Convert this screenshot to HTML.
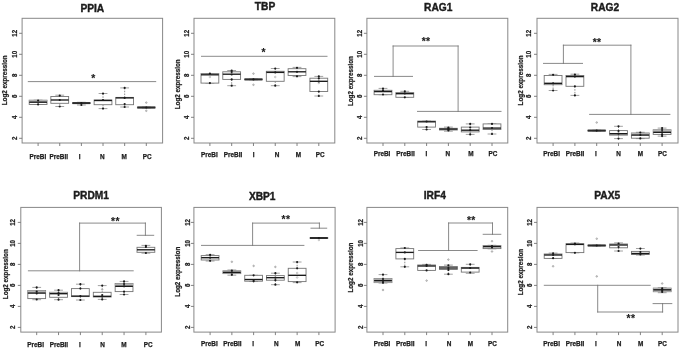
<!DOCTYPE html>
<html lang="en"><head><meta charset="utf-8"><title>Log2 expression boxplots</title>
<style>html,body{margin:0;padding:0;background:#fff;}body{width:685px;height:354px;overflow:hidden;}svg{display:block;}</style>
</head><body>
<svg width="685" height="354" viewBox="0 0 685 354" font-family="Liberation Sans, Arial, Helvetica, sans-serif" font-weight="bold" fill="#1c1c1c">
<rect width="685" height="354" fill="#fff"/>
<g>
<text transform="translate(92.3,11.5) scale(1.0,1)" font-size="10.2" stroke="#1c1c1c" stroke-width="0.4" text-anchor="middle">PPIA</text>
<rect x="22.1" y="18.3" width="140.5" height="124.7" fill="none" stroke="#888888" stroke-width="1"/>
<line x1="19.1" y1="33.3" x2="22.1" y2="33.3" stroke="#747474" stroke-width="0.9"/>
<text transform="translate(17,33.3) scale(1.06,1) rotate(-90)" font-size="6.2" stroke="#1c1c1c" stroke-width="0.22" text-anchor="middle">12</text>
<line x1="19.1" y1="54.3" x2="22.1" y2="54.3" stroke="#747474" stroke-width="0.9"/>
<text transform="translate(17,54.3) scale(1.06,1) rotate(-90)" font-size="6.2" stroke="#1c1c1c" stroke-width="0.22" text-anchor="middle">10</text>
<line x1="19.1" y1="75.3" x2="22.1" y2="75.3" stroke="#747474" stroke-width="0.9"/>
<text transform="translate(17,75.3) scale(1.06,1) rotate(-90)" font-size="6.2" stroke="#1c1c1c" stroke-width="0.22" text-anchor="middle">8</text>
<line x1="19.1" y1="96.3" x2="22.1" y2="96.3" stroke="#747474" stroke-width="0.9"/>
<text transform="translate(17,96.3) scale(1.06,1) rotate(-90)" font-size="6.2" stroke="#1c1c1c" stroke-width="0.22" text-anchor="middle">6</text>
<line x1="19.1" y1="117.3" x2="22.1" y2="117.3" stroke="#747474" stroke-width="0.9"/>
<text transform="translate(17,117.3) scale(1.06,1) rotate(-90)" font-size="6.2" stroke="#1c1c1c" stroke-width="0.22" text-anchor="middle">4</text>
<line x1="19.1" y1="138.3" x2="22.1" y2="138.3" stroke="#747474" stroke-width="0.9"/>
<text transform="translate(17,138.3) scale(1.06,1) rotate(-90)" font-size="6.2" stroke="#1c1c1c" stroke-width="0.22" text-anchor="middle">2</text>
<text transform="translate(6.8,80.3) scale(1.06,1) rotate(-90)" font-size="6.3" stroke="#1c1c1c" stroke-width="0.22" text-anchor="middle">Log2 expression</text>
<line x1="38.1" y1="143" x2="38.1" y2="146" stroke="#747474" stroke-width="0.9"/>
<text transform="translate(37.9,158.6) scale(1,1)" font-size="6.4" stroke="#1c1c1c" stroke-width="0.25" text-anchor="middle">PreBI</text>
<line x1="59.74" y1="143" x2="59.74" y2="146" stroke="#747474" stroke-width="0.9"/>
<text transform="translate(58.8,158.6) scale(1,1)" font-size="6.4" stroke="#1c1c1c" stroke-width="0.25" text-anchor="middle">PreBII</text>
<line x1="81.38" y1="143" x2="81.38" y2="146" stroke="#747474" stroke-width="0.9"/>
<text transform="translate(79.6,158.6) scale(1,1)" font-size="6.4" stroke="#1c1c1c" stroke-width="0.25" text-anchor="middle">I</text>
<line x1="103.02" y1="143" x2="103.02" y2="146" stroke="#747474" stroke-width="0.9"/>
<text transform="translate(102.2,158.6) scale(1,1)" font-size="6.4" stroke="#1c1c1c" stroke-width="0.25" text-anchor="middle">N</text>
<line x1="124.66" y1="143" x2="124.66" y2="146" stroke="#747474" stroke-width="0.9"/>
<text transform="translate(124.2,158.6) scale(1,1)" font-size="6.4" stroke="#1c1c1c" stroke-width="0.25" text-anchor="middle">M</text>
<line x1="146.3" y1="143" x2="146.3" y2="146" stroke="#747474" stroke-width="0.9"/>
<text transform="translate(147.2,158.6) scale(1,1)" font-size="6.4" stroke="#1c1c1c" stroke-width="0.25" text-anchor="middle">PC</text>
<line x1="33.7" y1="100.2" x2="42.5" y2="100.2" stroke="#8a8a8a" stroke-width="0.8"/>
<line x1="33.7" y1="104.5" x2="42.5" y2="104.5" stroke="#8a8a8a" stroke-width="0.8"/>
<rect x="29.2" y="100.2" width="17.8" height="4.3" fill="#fff" stroke="#747474" stroke-width="0.9"/>
<rect x="29.2" y="100.2" width="17.8" height="2" fill="#b4b4b4"/>
<line x1="29.2" y1="102.2" x2="47" y2="102.2" stroke="#1a1a1a" stroke-width="1.35"/>
<circle cx="38.1" cy="100.5" r="1.08" fill="#1a1a1a"/>
<circle cx="38.1" cy="104.4" r="1.08" fill="#1a1a1a"/>
<line x1="59.74" y1="95.2" x2="59.74" y2="96.5" stroke="#747474" stroke-width="0.8" stroke-dasharray="1.6 1.2"/>
<line x1="59.74" y1="103.3" x2="59.74" y2="106.5" stroke="#747474" stroke-width="0.8" stroke-dasharray="1.6 1.2"/>
<line x1="55.34" y1="95.2" x2="64.14" y2="95.2" stroke="#8a8a8a" stroke-width="0.8"/>
<line x1="55.34" y1="106.5" x2="64.14" y2="106.5" stroke="#8a8a8a" stroke-width="0.8"/>
<rect x="50.84" y="96.5" width="17.8" height="6.8" fill="#fff" stroke="#747474" stroke-width="0.9"/>
<line x1="50.84" y1="100" x2="68.64" y2="100" stroke="#1a1a1a" stroke-width="1.35"/>
<circle cx="59.74" cy="95.6" r="1.08" fill="#1a1a1a"/>
<circle cx="59.74" cy="100" r="1.08" fill="#1a1a1a"/>
<circle cx="59.74" cy="106.5" r="1.08" fill="#1a1a1a"/>
<line x1="81.38" y1="103.4" x2="81.38" y2="105" stroke="#747474" stroke-width="0.8" stroke-dasharray="1.6 1.2"/>
<line x1="76.98" y1="102.3" x2="85.78" y2="102.3" stroke="#8a8a8a" stroke-width="0.8"/>
<line x1="76.98" y1="105" x2="85.78" y2="105" stroke="#8a8a8a" stroke-width="0.8"/>
<rect x="72.48" y="102.8" width="17.8" height="0.6" fill="#fff" stroke="#747474" stroke-width="0.9"/>
<line x1="72.48" y1="103.1" x2="90.28" y2="103.1" stroke="#2c2c2c" stroke-width="2.0"/>
<circle cx="81.38" cy="103" r="1.08" fill="#1a1a1a"/>
<circle cx="81.38" cy="105" r="1.08" fill="#1a1a1a"/>
<line x1="103.02" y1="93.5" x2="103.02" y2="100" stroke="#747474" stroke-width="0.8" stroke-dasharray="1.6 1.2"/>
<line x1="103.02" y1="104.7" x2="103.02" y2="108.6" stroke="#747474" stroke-width="0.8" stroke-dasharray="1.6 1.2"/>
<line x1="98.62" y1="93.5" x2="107.42" y2="93.5" stroke="#8a8a8a" stroke-width="0.8"/>
<line x1="98.62" y1="108.6" x2="107.42" y2="108.6" stroke="#8a8a8a" stroke-width="0.8"/>
<rect x="94.12" y="100" width="17.8" height="4.7" fill="#fff" stroke="#747474" stroke-width="0.9"/>
<line x1="94.12" y1="100.5" x2="111.92" y2="100.5" stroke="#1a1a1a" stroke-width="1.35"/>
<circle cx="103.02" cy="93.5" r="1.08" fill="#1a1a1a"/>
<circle cx="103.02" cy="100" r="1.08" fill="#1a1a1a"/>
<circle cx="103.02" cy="108.6" r="1.08" fill="#1a1a1a"/>
<line x1="124.66" y1="87.9" x2="124.66" y2="97.4" stroke="#747474" stroke-width="0.8" stroke-dasharray="1.6 1.2"/>
<line x1="124.66" y1="104.7" x2="124.66" y2="107" stroke="#747474" stroke-width="0.8" stroke-dasharray="1.6 1.2"/>
<line x1="120.26" y1="87.9" x2="129.06" y2="87.9" stroke="#8a8a8a" stroke-width="0.8"/>
<line x1="120.26" y1="107" x2="129.06" y2="107" stroke="#8a8a8a" stroke-width="0.8"/>
<rect x="115.76" y="97.4" width="17.8" height="7.3" fill="#fff" stroke="#747474" stroke-width="0.9"/>
<line x1="115.76" y1="97.9" x2="133.56" y2="97.9" stroke="#1a1a1a" stroke-width="1.35"/>
<circle cx="124.66" cy="87.9" r="1.08" fill="#1a1a1a"/>
<circle cx="124.66" cy="97.9" r="1.08" fill="#1a1a1a"/>
<circle cx="124.66" cy="104" r="1.08" fill="#1a1a1a"/>
<circle cx="124.66" cy="107" r="1.08" fill="#1a1a1a"/>
<line x1="141.9" y1="107" x2="150.7" y2="107" stroke="#8a8a8a" stroke-width="0.8"/>
<line x1="141.9" y1="108" x2="150.7" y2="108" stroke="#8a8a8a" stroke-width="0.8"/>
<rect x="137.4" y="107.1" width="17.8" height="0.8" fill="#fff" stroke="#747474" stroke-width="0.9"/>
<line x1="137.4" y1="107.5" x2="155.2" y2="107.5" stroke="#2c2c2c" stroke-width="2.0"/>
<circle cx="146.3" cy="102.6" r="0.8" fill="#d8d8d8" stroke="#8f8f8f" stroke-width="0.6"/>
<circle cx="146.3" cy="110.8" r="0.8" fill="#d8d8d8" stroke="#8f8f8f" stroke-width="0.6"/>
<circle cx="146.3" cy="107.5" r="1.08" fill="#1a1a1a"/>
<line x1="28.3" y1="81.6" x2="155.7" y2="81.6" stroke="#757575" stroke-width="0.85" stroke-linecap="square"/>
<text x="93.4" y="81.85" font-size="10.3" letter-spacing="0.4" stroke="#1c1c1c" stroke-width="0.12" text-anchor="middle">*</text>
</g>
<g>
<text transform="translate(265,10.3) scale(1.0,1)" font-size="10.2" stroke="#1c1c1c" stroke-width="0.4" text-anchor="middle">TBP</text>
<rect x="194" y="18.3" width="140.8" height="124.7" fill="none" stroke="#888888" stroke-width="1"/>
<line x1="191" y1="33.3" x2="194" y2="33.3" stroke="#747474" stroke-width="0.9"/>
<text transform="translate(188.8,33.3) scale(1.06,1) rotate(-90)" font-size="6.2" stroke="#1c1c1c" stroke-width="0.22" text-anchor="middle">12</text>
<line x1="191" y1="54.3" x2="194" y2="54.3" stroke="#747474" stroke-width="0.9"/>
<text transform="translate(188.8,54.3) scale(1.06,1) rotate(-90)" font-size="6.2" stroke="#1c1c1c" stroke-width="0.22" text-anchor="middle">10</text>
<line x1="191" y1="75.3" x2="194" y2="75.3" stroke="#747474" stroke-width="0.9"/>
<text transform="translate(188.8,75.3) scale(1.06,1) rotate(-90)" font-size="6.2" stroke="#1c1c1c" stroke-width="0.22" text-anchor="middle">8</text>
<line x1="191" y1="96.3" x2="194" y2="96.3" stroke="#747474" stroke-width="0.9"/>
<text transform="translate(188.8,96.3) scale(1.06,1) rotate(-90)" font-size="6.2" stroke="#1c1c1c" stroke-width="0.22" text-anchor="middle">6</text>
<line x1="191" y1="117.3" x2="194" y2="117.3" stroke="#747474" stroke-width="0.9"/>
<text transform="translate(188.8,117.3) scale(1.06,1) rotate(-90)" font-size="6.2" stroke="#1c1c1c" stroke-width="0.22" text-anchor="middle">4</text>
<line x1="191" y1="138.3" x2="194" y2="138.3" stroke="#747474" stroke-width="0.9"/>
<text transform="translate(188.8,138.3) scale(1.06,1) rotate(-90)" font-size="6.2" stroke="#1c1c1c" stroke-width="0.22" text-anchor="middle">2</text>
<text transform="translate(180.4,84.3) scale(1.06,1) rotate(-90)" font-size="6.3" stroke="#1c1c1c" stroke-width="0.22" text-anchor="middle">Log2 expression</text>
<line x1="209.9" y1="143" x2="209.9" y2="146" stroke="#747474" stroke-width="0.9"/>
<text transform="translate(209.3,157) scale(1,1)" font-size="6.4" stroke="#1c1c1c" stroke-width="0.25" text-anchor="middle">PreBI</text>
<line x1="231.68" y1="143" x2="231.68" y2="146" stroke="#747474" stroke-width="0.9"/>
<text transform="translate(233,157) scale(1,1)" font-size="6.4" stroke="#1c1c1c" stroke-width="0.25" text-anchor="middle">PreBII</text>
<line x1="253.46" y1="143" x2="253.46" y2="146" stroke="#747474" stroke-width="0.9"/>
<text transform="translate(253.7,157) scale(1,1)" font-size="6.4" stroke="#1c1c1c" stroke-width="0.25" text-anchor="middle">I</text>
<line x1="275.24" y1="143" x2="275.24" y2="146" stroke="#747474" stroke-width="0.9"/>
<text transform="translate(277,157) scale(1,1)" font-size="6.4" stroke="#1c1c1c" stroke-width="0.25" text-anchor="middle">N</text>
<line x1="297.02" y1="143" x2="297.02" y2="146" stroke="#747474" stroke-width="0.9"/>
<text transform="translate(298.4,157) scale(1,1)" font-size="6.4" stroke="#1c1c1c" stroke-width="0.25" text-anchor="middle">M</text>
<line x1="318.8" y1="143" x2="318.8" y2="146" stroke="#747474" stroke-width="0.9"/>
<text transform="translate(320.1,157) scale(1,1)" font-size="6.4" stroke="#1c1c1c" stroke-width="0.25" text-anchor="middle">PC</text>
<line x1="205.5" y1="73.6" x2="214.3" y2="73.6" stroke="#8a8a8a" stroke-width="0.8"/>
<line x1="205.5" y1="83.1" x2="214.3" y2="83.1" stroke="#8a8a8a" stroke-width="0.8"/>
<rect x="201" y="73.6" width="17.8" height="9.5" fill="#fff" stroke="#747474" stroke-width="0.9"/>
<line x1="201" y1="74.8" x2="218.8" y2="74.8" stroke="#1a1a1a" stroke-width="1.35"/>
<circle cx="209.9" cy="77" r="0.8" fill="none" stroke="#a0a0a0" stroke-width="0.6"/>
<circle cx="209.9" cy="73.6" r="1.08" fill="#1a1a1a"/>
<circle cx="209.9" cy="83.1" r="1.08" fill="#1a1a1a"/>
<line x1="231.68" y1="70.5" x2="231.68" y2="71.8" stroke="#747474" stroke-width="0.8" stroke-dasharray="1.6 1.2"/>
<line x1="231.68" y1="79.4" x2="231.68" y2="85.7" stroke="#747474" stroke-width="0.8" stroke-dasharray="1.6 1.2"/>
<line x1="227.28" y1="70.5" x2="236.08" y2="70.5" stroke="#8a8a8a" stroke-width="0.8"/>
<line x1="227.28" y1="85.7" x2="236.08" y2="85.7" stroke="#8a8a8a" stroke-width="0.8"/>
<rect x="222.78" y="71.8" width="17.8" height="7.6" fill="#fff" stroke="#747474" stroke-width="0.9"/>
<line x1="222.78" y1="74.2" x2="240.58" y2="74.2" stroke="#1a1a1a" stroke-width="1.35"/>
<circle cx="231.68" cy="70.5" r="1.08" fill="#1a1a1a"/>
<circle cx="231.68" cy="72" r="1.08" fill="#1a1a1a"/>
<circle cx="231.68" cy="74.5" r="1.08" fill="#1a1a1a"/>
<circle cx="231.68" cy="79.4" r="1.08" fill="#1a1a1a"/>
<circle cx="231.68" cy="85.7" r="1.08" fill="#1a1a1a"/>
<line x1="249.06" y1="79" x2="257.86" y2="79" stroke="#8a8a8a" stroke-width="0.8"/>
<line x1="249.06" y1="79.8" x2="257.86" y2="79.8" stroke="#8a8a8a" stroke-width="0.8"/>
<rect x="244.56" y="79.1" width="17.8" height="0.6" fill="#fff" stroke="#747474" stroke-width="0.9"/>
<line x1="244.56" y1="79.4" x2="262.36" y2="79.4" stroke="#2c2c2c" stroke-width="2.0"/>
<circle cx="253.46" cy="73.6" r="0.8" fill="#d8d8d8" stroke="#8f8f8f" stroke-width="0.6"/>
<circle cx="253.46" cy="84.8" r="0.8" fill="#d8d8d8" stroke="#8f8f8f" stroke-width="0.6"/>
<circle cx="253.46" cy="79.4" r="1.08" fill="#1a1a1a"/>
<line x1="275.24" y1="68.5" x2="275.24" y2="71.3" stroke="#747474" stroke-width="0.8" stroke-dasharray="1.6 1.2"/>
<line x1="275.24" y1="81.3" x2="275.24" y2="85.7" stroke="#747474" stroke-width="0.8" stroke-dasharray="1.6 1.2"/>
<line x1="270.84" y1="68.5" x2="279.64" y2="68.5" stroke="#8a8a8a" stroke-width="0.8"/>
<line x1="270.84" y1="85.7" x2="279.64" y2="85.7" stroke="#8a8a8a" stroke-width="0.8"/>
<rect x="266.34" y="71.3" width="17.8" height="10" fill="#fff" stroke="#747474" stroke-width="0.9"/>
<line x1="266.34" y1="72.4" x2="284.14" y2="72.4" stroke="#1a1a1a" stroke-width="1.35"/>
<circle cx="275.24" cy="77" r="0.8" fill="none" stroke="#a0a0a0" stroke-width="0.6"/>
<circle cx="275.24" cy="68.5" r="1.08" fill="#1a1a1a"/>
<circle cx="275.24" cy="72.4" r="1.08" fill="#1a1a1a"/>
<circle cx="275.24" cy="85.7" r="1.08" fill="#1a1a1a"/>
<line x1="297.02" y1="67.4" x2="297.02" y2="68.7" stroke="#747474" stroke-width="0.8" stroke-dasharray="1.6 1.2"/>
<line x1="297.02" y1="75.5" x2="297.02" y2="76.6" stroke="#747474" stroke-width="0.8" stroke-dasharray="1.6 1.2"/>
<line x1="292.62" y1="67.4" x2="301.42" y2="67.4" stroke="#8a8a8a" stroke-width="0.8"/>
<line x1="292.62" y1="76.6" x2="301.42" y2="76.6" stroke="#8a8a8a" stroke-width="0.8"/>
<rect x="288.12" y="68.7" width="17.8" height="6.8" fill="#fff" stroke="#747474" stroke-width="0.9"/>
<line x1="288.12" y1="71.8" x2="305.92" y2="71.8" stroke="#1a1a1a" stroke-width="1.35"/>
<circle cx="297.02" cy="67.8" r="1.08" fill="#1a1a1a"/>
<circle cx="297.02" cy="71.8" r="1.08" fill="#1a1a1a"/>
<circle cx="297.02" cy="76.3" r="1.08" fill="#1a1a1a"/>
<line x1="318.8" y1="76.4" x2="318.8" y2="78.2" stroke="#747474" stroke-width="0.8" stroke-dasharray="1.6 1.2"/>
<line x1="318.8" y1="91.5" x2="318.8" y2="96" stroke="#747474" stroke-width="0.8" stroke-dasharray="1.6 1.2"/>
<line x1="314.4" y1="76.4" x2="323.2" y2="76.4" stroke="#8a8a8a" stroke-width="0.8"/>
<line x1="314.4" y1="96" x2="323.2" y2="96" stroke="#8a8a8a" stroke-width="0.8"/>
<rect x="309.9" y="78.2" width="17.8" height="13.3" fill="#fff" stroke="#747474" stroke-width="0.9"/>
<line x1="309.9" y1="81.3" x2="327.7" y2="81.3" stroke="#1a1a1a" stroke-width="1.35"/>
<circle cx="318.8" cy="83" r="0.8" fill="none" stroke="#a0a0a0" stroke-width="0.6"/>
<circle cx="318.8" cy="76.4" r="1.08" fill="#1a1a1a"/>
<circle cx="318.8" cy="78.5" r="1.08" fill="#1a1a1a"/>
<circle cx="318.8" cy="81.5" r="1.08" fill="#1a1a1a"/>
<circle cx="318.8" cy="91.5" r="1.08" fill="#1a1a1a"/>
<circle cx="318.8" cy="96" r="1.08" fill="#1a1a1a"/>
<line x1="201.5" y1="56.3" x2="327" y2="56.3" stroke="#757575" stroke-width="0.85" stroke-linecap="square"/>
<text x="263.6" y="55.55" font-size="10.3" letter-spacing="0.4" stroke="#1c1c1c" stroke-width="0.12" text-anchor="middle">*</text>
</g>
<g>
<text transform="translate(438.2,11.1) scale(1.0,1)" font-size="10.2" stroke="#1c1c1c" stroke-width="0.4" text-anchor="middle">RAG1</text>
<rect x="366.9" y="18.3" width="140.9" height="124.7" fill="none" stroke="#888888" stroke-width="1"/>
<line x1="363.9" y1="33.3" x2="366.9" y2="33.3" stroke="#747474" stroke-width="0.9"/>
<text transform="translate(361.5,33.3) scale(1.06,1) rotate(-90)" font-size="6.2" stroke="#1c1c1c" stroke-width="0.22" text-anchor="middle">12</text>
<line x1="363.9" y1="54.3" x2="366.9" y2="54.3" stroke="#747474" stroke-width="0.9"/>
<text transform="translate(361.5,54.3) scale(1.06,1) rotate(-90)" font-size="6.2" stroke="#1c1c1c" stroke-width="0.22" text-anchor="middle">10</text>
<line x1="363.9" y1="75.3" x2="366.9" y2="75.3" stroke="#747474" stroke-width="0.9"/>
<text transform="translate(361.5,75.3) scale(1.06,1) rotate(-90)" font-size="6.2" stroke="#1c1c1c" stroke-width="0.22" text-anchor="middle">8</text>
<line x1="363.9" y1="96.3" x2="366.9" y2="96.3" stroke="#747474" stroke-width="0.9"/>
<text transform="translate(361.5,96.3) scale(1.06,1) rotate(-90)" font-size="6.2" stroke="#1c1c1c" stroke-width="0.22" text-anchor="middle">6</text>
<line x1="363.9" y1="117.3" x2="366.9" y2="117.3" stroke="#747474" stroke-width="0.9"/>
<text transform="translate(361.5,117.3) scale(1.06,1) rotate(-90)" font-size="6.2" stroke="#1c1c1c" stroke-width="0.22" text-anchor="middle">4</text>
<line x1="363.9" y1="138.3" x2="366.9" y2="138.3" stroke="#747474" stroke-width="0.9"/>
<text transform="translate(361.5,138.3) scale(1.06,1) rotate(-90)" font-size="6.2" stroke="#1c1c1c" stroke-width="0.22" text-anchor="middle">2</text>
<text transform="translate(353,81.1) scale(1.06,1) rotate(-90)" font-size="6.3" stroke="#1c1c1c" stroke-width="0.22" text-anchor="middle">Log2 expression</text>
<line x1="383" y1="143" x2="383" y2="146" stroke="#747474" stroke-width="0.9"/>
<text transform="translate(382,156) scale(1,1)" font-size="6.4" stroke="#1c1c1c" stroke-width="0.25" text-anchor="middle">PreBI</text>
<line x1="404.8" y1="143" x2="404.8" y2="146" stroke="#747474" stroke-width="0.9"/>
<text transform="translate(405.5,156) scale(1,1)" font-size="6.4" stroke="#1c1c1c" stroke-width="0.25" text-anchor="middle">PreBII</text>
<line x1="426.6" y1="143" x2="426.6" y2="146" stroke="#747474" stroke-width="0.9"/>
<text transform="translate(426.4,156) scale(1,1)" font-size="6.4" stroke="#1c1c1c" stroke-width="0.25" text-anchor="middle">I</text>
<line x1="448.4" y1="143" x2="448.4" y2="146" stroke="#747474" stroke-width="0.9"/>
<text transform="translate(447.8,156) scale(1,1)" font-size="6.4" stroke="#1c1c1c" stroke-width="0.25" text-anchor="middle">N</text>
<line x1="470.2" y1="143" x2="470.2" y2="146" stroke="#747474" stroke-width="0.9"/>
<text transform="translate(470.9,156) scale(1,1)" font-size="6.4" stroke="#1c1c1c" stroke-width="0.25" text-anchor="middle">M</text>
<line x1="492" y1="143" x2="492" y2="146" stroke="#747474" stroke-width="0.9"/>
<text transform="translate(492.9,156) scale(1,1)" font-size="6.4" stroke="#1c1c1c" stroke-width="0.25" text-anchor="middle">PC</text>
<line x1="383" y1="88.4" x2="383" y2="90.3" stroke="#747474" stroke-width="0.8" stroke-dasharray="1.6 1.2"/>
<line x1="378.6" y1="88.4" x2="387.4" y2="88.4" stroke="#8a8a8a" stroke-width="0.8"/>
<line x1="378.6" y1="94.7" x2="387.4" y2="94.7" stroke="#8a8a8a" stroke-width="0.8"/>
<rect x="374.1" y="90.3" width="17.8" height="4.4" fill="#fff" stroke="#747474" stroke-width="0.9"/>
<line x1="374.1" y1="91.6" x2="391.9" y2="91.6" stroke="#1a1a1a" stroke-width="1.35"/>
<circle cx="383" cy="88.6" r="1.08" fill="#1a1a1a"/>
<circle cx="383" cy="90.5" r="1.08" fill="#1a1a1a"/>
<circle cx="383" cy="94.5" r="1.08" fill="#1a1a1a"/>
<line x1="404.8" y1="91.3" x2="404.8" y2="92.6" stroke="#747474" stroke-width="0.8" stroke-dasharray="1.6 1.2"/>
<line x1="400.4" y1="91.3" x2="409.2" y2="91.3" stroke="#8a8a8a" stroke-width="0.8"/>
<line x1="400.4" y1="97.3" x2="409.2" y2="97.3" stroke="#8a8a8a" stroke-width="0.8"/>
<rect x="395.9" y="92.6" width="17.8" height="4.7" fill="#fff" stroke="#747474" stroke-width="0.9"/>
<line x1="395.9" y1="93.7" x2="413.7" y2="93.7" stroke="#1a1a1a" stroke-width="1.35"/>
<circle cx="404.8" cy="91.3" r="1.08" fill="#1a1a1a"/>
<circle cx="404.8" cy="93.5" r="1.08" fill="#1a1a1a"/>
<circle cx="404.8" cy="97.3" r="1.08" fill="#1a1a1a"/>
<line x1="426.6" y1="127.1" x2="426.6" y2="129.5" stroke="#747474" stroke-width="0.8" stroke-dasharray="1.6 1.2"/>
<line x1="422.2" y1="121.1" x2="431" y2="121.1" stroke="#8a8a8a" stroke-width="0.8"/>
<line x1="422.2" y1="129.5" x2="431" y2="129.5" stroke="#8a8a8a" stroke-width="0.8"/>
<rect x="417.7" y="121.1" width="17.8" height="6" fill="#fff" stroke="#747474" stroke-width="0.9"/>
<line x1="417.7" y1="121.8" x2="435.5" y2="121.8" stroke="#1a1a1a" stroke-width="1.35"/>
<circle cx="426.6" cy="121.5" r="1.08" fill="#1a1a1a"/>
<circle cx="426.6" cy="127" r="1.08" fill="#1a1a1a"/>
<circle cx="426.6" cy="129.5" r="1.08" fill="#1a1a1a"/>
<line x1="448.4" y1="127.1" x2="448.4" y2="128.3" stroke="#747474" stroke-width="0.8" stroke-dasharray="1.6 1.2"/>
<line x1="448.4" y1="130" x2="448.4" y2="131.2" stroke="#747474" stroke-width="0.8" stroke-dasharray="1.6 1.2"/>
<line x1="444" y1="127.1" x2="452.8" y2="127.1" stroke="#8a8a8a" stroke-width="0.8"/>
<line x1="444" y1="131.2" x2="452.8" y2="131.2" stroke="#8a8a8a" stroke-width="0.8"/>
<rect x="439.5" y="128.3" width="17.8" height="1.7" fill="#fff" stroke="#747474" stroke-width="0.9"/>
<line x1="439.5" y1="129.1" x2="457.3" y2="129.1" stroke="#1a1a1a" stroke-width="1.35"/>
<circle cx="448.4" cy="127.5" r="1.08" fill="#1a1a1a"/>
<circle cx="448.4" cy="128.5" r="1.08" fill="#1a1a1a"/>
<circle cx="448.4" cy="129.5" r="1.08" fill="#1a1a1a"/>
<circle cx="448.4" cy="130.5" r="1.08" fill="#1a1a1a"/>
<line x1="470.2" y1="123.9" x2="470.2" y2="127.1" stroke="#747474" stroke-width="0.8" stroke-dasharray="1.6 1.2"/>
<line x1="470.2" y1="131.9" x2="470.2" y2="134.4" stroke="#747474" stroke-width="0.8" stroke-dasharray="1.6 1.2"/>
<line x1="465.8" y1="123.9" x2="474.6" y2="123.9" stroke="#8a8a8a" stroke-width="0.8"/>
<line x1="465.8" y1="134.4" x2="474.6" y2="134.4" stroke="#8a8a8a" stroke-width="0.8"/>
<rect x="461.3" y="127.1" width="17.8" height="4.8" fill="#fff" stroke="#747474" stroke-width="0.9"/>
<line x1="461.3" y1="130.2" x2="479.1" y2="130.2" stroke="#1a1a1a" stroke-width="1.35"/>
<circle cx="470.2" cy="123.9" r="1.08" fill="#1a1a1a"/>
<circle cx="470.2" cy="127.5" r="1.08" fill="#1a1a1a"/>
<circle cx="470.2" cy="130.2" r="1.08" fill="#1a1a1a"/>
<circle cx="470.2" cy="134.4" r="1.08" fill="#1a1a1a"/>
<line x1="492" y1="129.5" x2="492" y2="134" stroke="#747474" stroke-width="0.8" stroke-dasharray="1.6 1.2"/>
<line x1="487.6" y1="123.9" x2="496.4" y2="123.9" stroke="#8a8a8a" stroke-width="0.8"/>
<line x1="487.6" y1="134" x2="496.4" y2="134" stroke="#8a8a8a" stroke-width="0.8"/>
<rect x="483.1" y="123.9" width="17.8" height="5.6" fill="#fff" stroke="#747474" stroke-width="0.9"/>
<line x1="483.1" y1="128.1" x2="500.9" y2="128.1" stroke="#1a1a1a" stroke-width="1.35"/>
<circle cx="492" cy="123.9" r="1.08" fill="#1a1a1a"/>
<circle cx="492" cy="128" r="1.08" fill="#1a1a1a"/>
<circle cx="492" cy="134" r="1.08" fill="#1a1a1a"/>
<line x1="374.5" y1="76.4" x2="412.5" y2="76.4" stroke="#757575" stroke-width="0.85" stroke-linecap="square"/>
<line x1="393.1" y1="46" x2="393.1" y2="76.4" stroke="#757575" stroke-width="0.85" stroke-linecap="square"/>
<line x1="393.1" y1="46" x2="458.1" y2="46" stroke="#757575" stroke-width="0.85" stroke-linecap="square"/>
<line x1="458.1" y1="46" x2="458.1" y2="111.4" stroke="#757575" stroke-width="0.85" stroke-linecap="square"/>
<line x1="417.5" y1="111.4" x2="501" y2="111.4" stroke="#757575" stroke-width="0.85" stroke-linecap="square"/>
<text x="426.1" y="44.85" font-size="10.3" letter-spacing="0.4" stroke="#1c1c1c" stroke-width="0.12" text-anchor="middle">**</text>
</g>
<g>
<text transform="translate(605,11.1) scale(1.0,1)" font-size="10.2" stroke="#1c1c1c" stroke-width="0.4" text-anchor="middle">RAG2</text>
<rect x="537" y="18.3" width="141" height="124.7" fill="none" stroke="#888888" stroke-width="1"/>
<line x1="534" y1="33.3" x2="537" y2="33.3" stroke="#747474" stroke-width="0.9"/>
<text transform="translate(531.1,33.3) scale(1.06,1) rotate(-90)" font-size="6.2" stroke="#1c1c1c" stroke-width="0.22" text-anchor="middle">12</text>
<line x1="534" y1="54.3" x2="537" y2="54.3" stroke="#747474" stroke-width="0.9"/>
<text transform="translate(531.1,54.3) scale(1.06,1) rotate(-90)" font-size="6.2" stroke="#1c1c1c" stroke-width="0.22" text-anchor="middle">10</text>
<line x1="534" y1="75.3" x2="537" y2="75.3" stroke="#747474" stroke-width="0.9"/>
<text transform="translate(531.1,75.3) scale(1.06,1) rotate(-90)" font-size="6.2" stroke="#1c1c1c" stroke-width="0.22" text-anchor="middle">8</text>
<line x1="534" y1="96.3" x2="537" y2="96.3" stroke="#747474" stroke-width="0.9"/>
<text transform="translate(531.1,96.3) scale(1.06,1) rotate(-90)" font-size="6.2" stroke="#1c1c1c" stroke-width="0.22" text-anchor="middle">6</text>
<line x1="534" y1="117.3" x2="537" y2="117.3" stroke="#747474" stroke-width="0.9"/>
<text transform="translate(531.1,117.3) scale(1.06,1) rotate(-90)" font-size="6.2" stroke="#1c1c1c" stroke-width="0.22" text-anchor="middle">4</text>
<line x1="534" y1="138.3" x2="537" y2="138.3" stroke="#747474" stroke-width="0.9"/>
<text transform="translate(531.1,138.3) scale(1.06,1) rotate(-90)" font-size="6.2" stroke="#1c1c1c" stroke-width="0.22" text-anchor="middle">2</text>
<text transform="translate(523,80.4) scale(1.06,1) rotate(-90)" font-size="6.3" stroke="#1c1c1c" stroke-width="0.22" text-anchor="middle">Log2 expression</text>
<line x1="553.1" y1="143" x2="553.1" y2="146" stroke="#747474" stroke-width="0.9"/>
<text transform="translate(551.6,156) scale(1,1)" font-size="6.4" stroke="#1c1c1c" stroke-width="0.25" text-anchor="middle">PreBI</text>
<line x1="574.9" y1="143" x2="574.9" y2="146" stroke="#747474" stroke-width="0.9"/>
<text transform="translate(575,156) scale(1,1)" font-size="6.4" stroke="#1c1c1c" stroke-width="0.25" text-anchor="middle">PreBII</text>
<line x1="596.7" y1="143" x2="596.7" y2="146" stroke="#747474" stroke-width="0.9"/>
<text transform="translate(595.9,156) scale(1,1)" font-size="6.4" stroke="#1c1c1c" stroke-width="0.25" text-anchor="middle">I</text>
<line x1="618.5" y1="143" x2="618.5" y2="146" stroke="#747474" stroke-width="0.9"/>
<text transform="translate(618.5,156) scale(1,1)" font-size="6.4" stroke="#1c1c1c" stroke-width="0.25" text-anchor="middle">N</text>
<line x1="640.3" y1="143" x2="640.3" y2="146" stroke="#747474" stroke-width="0.9"/>
<text transform="translate(640.4,156) scale(1,1)" font-size="6.4" stroke="#1c1c1c" stroke-width="0.25" text-anchor="middle">M</text>
<line x1="662.1" y1="143" x2="662.1" y2="146" stroke="#747474" stroke-width="0.9"/>
<text transform="translate(662.4,156) scale(1,1)" font-size="6.4" stroke="#1c1c1c" stroke-width="0.25" text-anchor="middle">PC</text>
<line x1="553.1" y1="74.4" x2="553.1" y2="75.5" stroke="#747474" stroke-width="0.8" stroke-dasharray="1.6 1.2"/>
<line x1="553.1" y1="84.7" x2="553.1" y2="90.5" stroke="#747474" stroke-width="0.8" stroke-dasharray="1.6 1.2"/>
<line x1="548.7" y1="74.4" x2="557.5" y2="74.4" stroke="#8a8a8a" stroke-width="0.8"/>
<line x1="548.7" y1="90.5" x2="557.5" y2="90.5" stroke="#8a8a8a" stroke-width="0.8"/>
<rect x="544.2" y="75.5" width="17.8" height="9.2" fill="#fff" stroke="#747474" stroke-width="0.9"/>
<line x1="544.2" y1="83.3" x2="562" y2="83.3" stroke="#1a1a1a" stroke-width="1.35"/>
<circle cx="553.1" cy="74.8" r="1.08" fill="#1a1a1a"/>
<circle cx="553.1" cy="83.3" r="1.08" fill="#1a1a1a"/>
<circle cx="553.1" cy="90.5" r="1.08" fill="#1a1a1a"/>
<line x1="574.9" y1="74.2" x2="574.9" y2="75.5" stroke="#747474" stroke-width="0.8" stroke-dasharray="1.6 1.2"/>
<line x1="574.9" y1="86.3" x2="574.9" y2="95.4" stroke="#747474" stroke-width="0.8" stroke-dasharray="1.6 1.2"/>
<line x1="570.5" y1="74.2" x2="579.3" y2="74.2" stroke="#8a8a8a" stroke-width="0.8"/>
<line x1="570.5" y1="95.4" x2="579.3" y2="95.4" stroke="#8a8a8a" stroke-width="0.8"/>
<rect x="566" y="75.5" width="17.8" height="10.8" fill="#fff" stroke="#747474" stroke-width="0.9"/>
<line x1="566" y1="76.6" x2="583.8" y2="76.6" stroke="#1a1a1a" stroke-width="1.35"/>
<circle cx="574.9" cy="74.5" r="1.08" fill="#1a1a1a"/>
<circle cx="574.9" cy="76.6" r="1.08" fill="#1a1a1a"/>
<circle cx="574.9" cy="86.3" r="1.08" fill="#1a1a1a"/>
<circle cx="574.9" cy="95.4" r="1.08" fill="#1a1a1a"/>
<line x1="592.3" y1="130.2" x2="601.1" y2="130.2" stroke="#8a8a8a" stroke-width="0.8"/>
<line x1="592.3" y1="131" x2="601.1" y2="131" stroke="#8a8a8a" stroke-width="0.8"/>
<rect x="587.8" y="130.3" width="17.8" height="0.6" fill="#fff" stroke="#747474" stroke-width="0.9"/>
<line x1="587.8" y1="130.6" x2="605.6" y2="130.6" stroke="#2c2c2c" stroke-width="2.0"/>
<circle cx="596.7" cy="122.5" r="0.8" fill="#d8d8d8" stroke="#8f8f8f" stroke-width="0.6"/>
<circle cx="596.7" cy="130.6" r="1.08" fill="#1a1a1a"/>
<line x1="618.5" y1="126.3" x2="618.5" y2="130.6" stroke="#747474" stroke-width="0.8" stroke-dasharray="1.6 1.2"/>
<line x1="618.5" y1="135.1" x2="618.5" y2="138.6" stroke="#747474" stroke-width="0.8" stroke-dasharray="1.6 1.2"/>
<line x1="614.1" y1="126.3" x2="622.9" y2="126.3" stroke="#8a8a8a" stroke-width="0.8"/>
<line x1="614.1" y1="138.6" x2="622.9" y2="138.6" stroke="#8a8a8a" stroke-width="0.8"/>
<rect x="609.6" y="130.6" width="17.8" height="4.5" fill="#fff" stroke="#747474" stroke-width="0.9"/>
<rect x="609.6" y="133.7" width="17.8" height="1.4" fill="#b4b4b4"/>
<line x1="609.6" y1="133.7" x2="627.4" y2="133.7" stroke="#1a1a1a" stroke-width="1.35"/>
<circle cx="618.5" cy="126.3" r="1.08" fill="#1a1a1a"/>
<circle cx="618.5" cy="131" r="1.08" fill="#1a1a1a"/>
<circle cx="618.5" cy="133.7" r="1.08" fill="#1a1a1a"/>
<circle cx="618.5" cy="138.6" r="1.08" fill="#1a1a1a"/>
<line x1="640.3" y1="132.3" x2="640.3" y2="133" stroke="#747474" stroke-width="0.8" stroke-dasharray="1.6 1.2"/>
<line x1="635.9" y1="132.3" x2="644.7" y2="132.3" stroke="#8a8a8a" stroke-width="0.8"/>
<line x1="635.9" y1="138.6" x2="644.7" y2="138.6" stroke="#8a8a8a" stroke-width="0.8"/>
<rect x="631.4" y="133" width="17.8" height="5.2" fill="#fff" stroke="#747474" stroke-width="0.9"/>
<rect x="631.4" y="133" width="17.8" height="2.1" fill="#b4b4b4"/>
<line x1="631.4" y1="135.1" x2="649.2" y2="135.1" stroke="#1a1a1a" stroke-width="1.35"/>
<circle cx="640.3" cy="132.5" r="1.08" fill="#1a1a1a"/>
<circle cx="640.3" cy="135" r="1.08" fill="#1a1a1a"/>
<circle cx="640.3" cy="138.4" r="1.08" fill="#1a1a1a"/>
<line x1="662.1" y1="128.1" x2="662.1" y2="129.8" stroke="#747474" stroke-width="0.8" stroke-dasharray="1.6 1.2"/>
<line x1="662.1" y1="134.4" x2="662.1" y2="136.1" stroke="#747474" stroke-width="0.8" stroke-dasharray="1.6 1.2"/>
<line x1="657.7" y1="128.1" x2="666.5" y2="128.1" stroke="#8a8a8a" stroke-width="0.8"/>
<line x1="657.7" y1="136.1" x2="666.5" y2="136.1" stroke="#8a8a8a" stroke-width="0.8"/>
<rect x="653.2" y="129.8" width="17.8" height="4.6" fill="#fff" stroke="#747474" stroke-width="0.9"/>
<rect x="653.2" y="129.8" width="17.8" height="2.5" fill="#b4b4b4"/>
<line x1="653.2" y1="132.3" x2="671" y2="132.3" stroke="#1a1a1a" stroke-width="1.35"/>
<circle cx="662.1" cy="128.1" r="1.08" fill="#1a1a1a"/>
<circle cx="662.1" cy="130" r="1.08" fill="#1a1a1a"/>
<circle cx="662.1" cy="132.3" r="1.08" fill="#1a1a1a"/>
<circle cx="662.1" cy="134.4" r="1.08" fill="#1a1a1a"/>
<circle cx="662.1" cy="136.1" r="1.08" fill="#1a1a1a"/>
<line x1="543.5" y1="63.4" x2="582.5" y2="63.4" stroke="#757575" stroke-width="0.85" stroke-linecap="square"/>
<line x1="563.4" y1="45.2" x2="563.4" y2="63.4" stroke="#757575" stroke-width="0.85" stroke-linecap="square"/>
<line x1="563.4" y1="45.2" x2="630.9" y2="45.2" stroke="#757575" stroke-width="0.85" stroke-linecap="square"/>
<line x1="630.9" y1="45.2" x2="630.9" y2="114.4" stroke="#757575" stroke-width="0.85" stroke-linecap="square"/>
<line x1="589.6" y1="114.4" x2="669.9" y2="114.4" stroke="#757575" stroke-width="0.85" stroke-linecap="square"/>
<text x="597.1" y="45.55" font-size="10.3" letter-spacing="0.4" stroke="#1c1c1c" stroke-width="0.12" text-anchor="middle">**</text>
</g>
<g>
<text transform="translate(91.1,199.4) scale(1.0,1)" font-size="10.2" stroke="#1c1c1c" stroke-width="0.4" text-anchor="middle">PRDM1</text>
<rect x="20.8" y="207.4" width="140.6" height="124.7" fill="none" stroke="#888888" stroke-width="1"/>
<line x1="17.8" y1="222.4" x2="20.8" y2="222.4" stroke="#747474" stroke-width="0.9"/>
<text transform="translate(15,222.4) scale(1.06,1) rotate(-90)" font-size="6.2" stroke="#1c1c1c" stroke-width="0.22" text-anchor="middle">12</text>
<line x1="17.8" y1="243.4" x2="20.8" y2="243.4" stroke="#747474" stroke-width="0.9"/>
<text transform="translate(15,243.4) scale(1.06,1) rotate(-90)" font-size="6.2" stroke="#1c1c1c" stroke-width="0.22" text-anchor="middle">10</text>
<line x1="17.8" y1="264.4" x2="20.8" y2="264.4" stroke="#747474" stroke-width="0.9"/>
<text transform="translate(15,264.4) scale(1.06,1) rotate(-90)" font-size="6.2" stroke="#1c1c1c" stroke-width="0.22" text-anchor="middle">8</text>
<line x1="17.8" y1="285.4" x2="20.8" y2="285.4" stroke="#747474" stroke-width="0.9"/>
<text transform="translate(15,285.4) scale(1.06,1) rotate(-90)" font-size="6.2" stroke="#1c1c1c" stroke-width="0.22" text-anchor="middle">6</text>
<line x1="17.8" y1="306.4" x2="20.8" y2="306.4" stroke="#747474" stroke-width="0.9"/>
<text transform="translate(15,306.4) scale(1.06,1) rotate(-90)" font-size="6.2" stroke="#1c1c1c" stroke-width="0.22" text-anchor="middle">4</text>
<line x1="17.8" y1="327.4" x2="20.8" y2="327.4" stroke="#747474" stroke-width="0.9"/>
<text transform="translate(15,327.4) scale(1.06,1) rotate(-90)" font-size="6.2" stroke="#1c1c1c" stroke-width="0.22" text-anchor="middle">2</text>
<text transform="translate(8,274.2) scale(1.06,1) rotate(-90)" font-size="6.3" stroke="#1c1c1c" stroke-width="0.22" text-anchor="middle">Log2 expression</text>
<line x1="36.7" y1="332.1" x2="36.7" y2="335.1" stroke="#747474" stroke-width="0.9"/>
<text transform="translate(35.6,347) scale(1,1)" font-size="6.4" stroke="#1c1c1c" stroke-width="0.25" text-anchor="middle">PreBI</text>
<line x1="58.54" y1="332.1" x2="58.54" y2="335.1" stroke="#747474" stroke-width="0.9"/>
<text transform="translate(58.9,347) scale(1,1)" font-size="6.4" stroke="#1c1c1c" stroke-width="0.25" text-anchor="middle">PreBII</text>
<line x1="80.38" y1="332.1" x2="80.38" y2="335.1" stroke="#747474" stroke-width="0.9"/>
<text transform="translate(79.9,347) scale(1,1)" font-size="6.4" stroke="#1c1c1c" stroke-width="0.25" text-anchor="middle">I</text>
<line x1="102.22" y1="332.1" x2="102.22" y2="335.1" stroke="#747474" stroke-width="0.9"/>
<text transform="translate(102.5,347) scale(1,1)" font-size="6.4" stroke="#1c1c1c" stroke-width="0.25" text-anchor="middle">N</text>
<line x1="124.06" y1="332.1" x2="124.06" y2="335.1" stroke="#747474" stroke-width="0.9"/>
<text transform="translate(123.9,347) scale(1,1)" font-size="6.4" stroke="#1c1c1c" stroke-width="0.25" text-anchor="middle">M</text>
<line x1="145.9" y1="332.1" x2="145.9" y2="335.1" stroke="#747474" stroke-width="0.9"/>
<text transform="translate(148.1,347) scale(1,1)" font-size="6.4" stroke="#1c1c1c" stroke-width="0.25" text-anchor="middle">PC</text>
<line x1="36.7" y1="287.4" x2="36.7" y2="290.5" stroke="#747474" stroke-width="0.8" stroke-dasharray="1.6 1.2"/>
<line x1="36.7" y1="298.6" x2="36.7" y2="299.7" stroke="#747474" stroke-width="0.8" stroke-dasharray="1.6 1.2"/>
<line x1="32.3" y1="287.4" x2="41.1" y2="287.4" stroke="#8a8a8a" stroke-width="0.8"/>
<line x1="32.3" y1="299.7" x2="41.1" y2="299.7" stroke="#8a8a8a" stroke-width="0.8"/>
<rect x="27.8" y="290.5" width="17.8" height="8.1" fill="#fff" stroke="#747474" stroke-width="0.9"/>
<rect x="27.8" y="290.5" width="17.8" height="2.6" fill="#b4b4b4"/>
<line x1="27.8" y1="293.1" x2="45.6" y2="293.1" stroke="#1a1a1a" stroke-width="1.35"/>
<circle cx="36.7" cy="287.4" r="1.08" fill="#1a1a1a"/>
<circle cx="36.7" cy="291.5" r="1.08" fill="#1a1a1a"/>
<circle cx="36.7" cy="293.5" r="1.08" fill="#1a1a1a"/>
<circle cx="36.7" cy="299.5" r="1.08" fill="#1a1a1a"/>
<line x1="58.54" y1="290.2" x2="58.54" y2="292.3" stroke="#747474" stroke-width="0.8" stroke-dasharray="1.6 1.2"/>
<line x1="58.54" y1="297.3" x2="58.54" y2="299.7" stroke="#747474" stroke-width="0.8" stroke-dasharray="1.6 1.2"/>
<line x1="54.14" y1="290.2" x2="62.94" y2="290.2" stroke="#8a8a8a" stroke-width="0.8"/>
<line x1="54.14" y1="299.7" x2="62.94" y2="299.7" stroke="#8a8a8a" stroke-width="0.8"/>
<rect x="49.64" y="292.3" width="17.8" height="5" fill="#fff" stroke="#747474" stroke-width="0.9"/>
<rect x="49.64" y="292.3" width="17.8" height="1.4" fill="#b4b4b4"/>
<line x1="49.64" y1="293.7" x2="67.44" y2="293.7" stroke="#1a1a1a" stroke-width="1.35"/>
<circle cx="58.54" cy="290.2" r="1.08" fill="#1a1a1a"/>
<circle cx="58.54" cy="293" r="1.08" fill="#1a1a1a"/>
<circle cx="58.54" cy="295" r="1.08" fill="#1a1a1a"/>
<circle cx="58.54" cy="299.7" r="1.08" fill="#1a1a1a"/>
<line x1="80.38" y1="284.2" x2="80.38" y2="288.6" stroke="#747474" stroke-width="0.8" stroke-dasharray="1.6 1.2"/>
<line x1="80.38" y1="296.6" x2="80.38" y2="300" stroke="#747474" stroke-width="0.8" stroke-dasharray="1.6 1.2"/>
<line x1="75.98" y1="284.2" x2="84.78" y2="284.2" stroke="#8a8a8a" stroke-width="0.8"/>
<line x1="75.98" y1="300" x2="84.78" y2="300" stroke="#8a8a8a" stroke-width="0.8"/>
<rect x="71.48" y="288.6" width="17.8" height="8" fill="#fff" stroke="#747474" stroke-width="0.9"/>
<line x1="71.48" y1="296.1" x2="89.28" y2="296.1" stroke="#1a1a1a" stroke-width="1.35"/>
<circle cx="80.38" cy="284.2" r="1.08" fill="#1a1a1a"/>
<circle cx="80.38" cy="288.6" r="1.08" fill="#1a1a1a"/>
<circle cx="80.38" cy="296" r="1.08" fill="#1a1a1a"/>
<circle cx="80.38" cy="300" r="1.08" fill="#1a1a1a"/>
<line x1="102.22" y1="285.6" x2="102.22" y2="292.3" stroke="#747474" stroke-width="0.8" stroke-dasharray="1.6 1.2"/>
<line x1="102.22" y1="297" x2="102.22" y2="299.4" stroke="#747474" stroke-width="0.8" stroke-dasharray="1.6 1.2"/>
<line x1="97.82" y1="285.6" x2="106.62" y2="285.6" stroke="#8a8a8a" stroke-width="0.8"/>
<line x1="97.82" y1="299.4" x2="106.62" y2="299.4" stroke="#8a8a8a" stroke-width="0.8"/>
<rect x="93.32" y="292.3" width="17.8" height="4.7" fill="#fff" stroke="#747474" stroke-width="0.9"/>
<line x1="93.32" y1="296.3" x2="111.12" y2="296.3" stroke="#1a1a1a" stroke-width="1.35"/>
<circle cx="102.22" cy="289.5" r="0.8" fill="none" stroke="#a0a0a0" stroke-width="0.6"/>
<circle cx="102.22" cy="285.6" r="1.08" fill="#1a1a1a"/>
<circle cx="102.22" cy="295" r="1.08" fill="#1a1a1a"/>
<circle cx="102.22" cy="296.5" r="1.08" fill="#1a1a1a"/>
<circle cx="102.22" cy="299.4" r="1.08" fill="#1a1a1a"/>
<line x1="124.06" y1="281.4" x2="124.06" y2="283.5" stroke="#747474" stroke-width="0.8" stroke-dasharray="1.6 1.2"/>
<line x1="124.06" y1="291.6" x2="124.06" y2="294.5" stroke="#747474" stroke-width="0.8" stroke-dasharray="1.6 1.2"/>
<line x1="119.66" y1="281.4" x2="128.46" y2="281.4" stroke="#8a8a8a" stroke-width="0.8"/>
<line x1="119.66" y1="294.5" x2="128.46" y2="294.5" stroke="#8a8a8a" stroke-width="0.8"/>
<rect x="115.16" y="283.5" width="17.8" height="8.1" fill="#fff" stroke="#747474" stroke-width="0.9"/>
<rect x="115.16" y="283.5" width="17.8" height="2.8" fill="#b4b4b4"/>
<line x1="115.16" y1="286.3" x2="132.96" y2="286.3" stroke="#1a1a1a" stroke-width="1.35"/>
<circle cx="124.06" cy="281.4" r="1.08" fill="#1a1a1a"/>
<circle cx="124.06" cy="284" r="1.08" fill="#1a1a1a"/>
<circle cx="124.06" cy="286.3" r="1.08" fill="#1a1a1a"/>
<circle cx="124.06" cy="291.6" r="1.08" fill="#1a1a1a"/>
<circle cx="124.06" cy="294.5" r="1.08" fill="#1a1a1a"/>
<line x1="145.9" y1="245.4" x2="145.9" y2="247.3" stroke="#747474" stroke-width="0.8" stroke-dasharray="1.6 1.2"/>
<line x1="145.9" y1="252.3" x2="145.9" y2="253.2" stroke="#747474" stroke-width="0.8" stroke-dasharray="1.6 1.2"/>
<line x1="141.5" y1="245.4" x2="150.3" y2="245.4" stroke="#8a8a8a" stroke-width="0.8"/>
<line x1="141.5" y1="253.2" x2="150.3" y2="253.2" stroke="#8a8a8a" stroke-width="0.8"/>
<rect x="137" y="247.3" width="17.8" height="5" fill="#fff" stroke="#747474" stroke-width="0.9"/>
<line x1="137" y1="249.8" x2="154.8" y2="249.8" stroke="#1a1a1a" stroke-width="1.35"/>
<circle cx="145.9" cy="245.8" r="1.08" fill="#1a1a1a"/>
<circle cx="145.9" cy="247" r="1.08" fill="#1a1a1a"/>
<circle cx="145.9" cy="253" r="1.08" fill="#1a1a1a"/>
<line x1="28.4" y1="270.8" x2="133.2" y2="270.8" stroke="#757575" stroke-width="0.85" stroke-linecap="square"/>
<line x1="79.6" y1="223.1" x2="79.6" y2="270.8" stroke="#757575" stroke-width="0.85" stroke-linecap="square"/>
<line x1="79.6" y1="223.1" x2="145.4" y2="223.1" stroke="#757575" stroke-width="0.85" stroke-linecap="square"/>
<line x1="145.4" y1="223.1" x2="145.4" y2="235.3" stroke="#757575" stroke-width="0.85" stroke-linecap="square"/>
<line x1="137.2" y1="235.3" x2="153.7" y2="235.3" stroke="#757575" stroke-width="0.85" stroke-linecap="square"/>
<text x="115.5" y="225.25" font-size="10.3" letter-spacing="0.4" stroke="#1c1c1c" stroke-width="0.12" text-anchor="middle">**</text>
</g>
<g>
<text transform="translate(262.2,200.3) scale(1.0,1)" font-size="10.2" stroke="#1c1c1c" stroke-width="0.4" text-anchor="middle">XBP1</text>
<rect x="193.9" y="207.4" width="141.2" height="124.7" fill="none" stroke="#888888" stroke-width="1"/>
<line x1="190.9" y1="222.4" x2="193.9" y2="222.4" stroke="#747474" stroke-width="0.9"/>
<text transform="translate(189.8,222.4) scale(1.06,1) rotate(-90)" font-size="6.2" stroke="#1c1c1c" stroke-width="0.22" text-anchor="middle">12</text>
<line x1="190.9" y1="243.4" x2="193.9" y2="243.4" stroke="#747474" stroke-width="0.9"/>
<text transform="translate(189.8,243.4) scale(1.06,1) rotate(-90)" font-size="6.2" stroke="#1c1c1c" stroke-width="0.22" text-anchor="middle">10</text>
<line x1="190.9" y1="264.4" x2="193.9" y2="264.4" stroke="#747474" stroke-width="0.9"/>
<text transform="translate(189.8,264.4) scale(1.06,1) rotate(-90)" font-size="6.2" stroke="#1c1c1c" stroke-width="0.22" text-anchor="middle">8</text>
<line x1="190.9" y1="285.4" x2="193.9" y2="285.4" stroke="#747474" stroke-width="0.9"/>
<text transform="translate(189.8,285.4) scale(1.06,1) rotate(-90)" font-size="6.2" stroke="#1c1c1c" stroke-width="0.22" text-anchor="middle">6</text>
<line x1="190.9" y1="306.4" x2="193.9" y2="306.4" stroke="#747474" stroke-width="0.9"/>
<text transform="translate(189.8,306.4) scale(1.06,1) rotate(-90)" font-size="6.2" stroke="#1c1c1c" stroke-width="0.22" text-anchor="middle">4</text>
<line x1="190.9" y1="327.4" x2="193.9" y2="327.4" stroke="#747474" stroke-width="0.9"/>
<text transform="translate(189.8,327.4) scale(1.06,1) rotate(-90)" font-size="6.2" stroke="#1c1c1c" stroke-width="0.22" text-anchor="middle">2</text>
<text transform="translate(180.4,271.7) scale(1.06,1) rotate(-90)" font-size="6.3" stroke="#1c1c1c" stroke-width="0.22" text-anchor="middle">Log2 expression</text>
<line x1="210.1" y1="332.1" x2="210.1" y2="335.1" stroke="#747474" stroke-width="0.9"/>
<text transform="translate(209.3,345.8) scale(1,1)" font-size="6.4" stroke="#1c1c1c" stroke-width="0.25" text-anchor="middle">PreBI</text>
<line x1="231.86" y1="332.1" x2="231.86" y2="335.1" stroke="#747474" stroke-width="0.9"/>
<text transform="translate(232.4,345.8) scale(1,1)" font-size="6.4" stroke="#1c1c1c" stroke-width="0.25" text-anchor="middle">PreBII</text>
<line x1="253.62" y1="332.1" x2="253.62" y2="335.1" stroke="#747474" stroke-width="0.9"/>
<text transform="translate(253.2,345.8) scale(1,1)" font-size="6.4" stroke="#1c1c1c" stroke-width="0.25" text-anchor="middle">I</text>
<line x1="275.38" y1="332.1" x2="275.38" y2="335.1" stroke="#747474" stroke-width="0.9"/>
<text transform="translate(276.3,345.8) scale(1,1)" font-size="6.4" stroke="#1c1c1c" stroke-width="0.25" text-anchor="middle">N</text>
<line x1="297.14" y1="332.1" x2="297.14" y2="335.1" stroke="#747474" stroke-width="0.9"/>
<text transform="translate(297.6,345.8) scale(1,1)" font-size="6.4" stroke="#1c1c1c" stroke-width="0.25" text-anchor="middle">M</text>
<line x1="318.9" y1="332.1" x2="318.9" y2="335.1" stroke="#747474" stroke-width="0.9"/>
<text transform="translate(319.6,345.8) scale(1,1)" font-size="6.4" stroke="#1c1c1c" stroke-width="0.25" text-anchor="middle">PC</text>
<line x1="210.1" y1="254.7" x2="210.1" y2="255.6" stroke="#747474" stroke-width="0.8" stroke-dasharray="1.6 1.2"/>
<line x1="210.1" y1="260" x2="210.1" y2="261" stroke="#747474" stroke-width="0.8" stroke-dasharray="1.6 1.2"/>
<line x1="205.7" y1="254.7" x2="214.5" y2="254.7" stroke="#8a8a8a" stroke-width="0.8"/>
<line x1="205.7" y1="261" x2="214.5" y2="261" stroke="#8a8a8a" stroke-width="0.8"/>
<rect x="201.2" y="255.6" width="17.8" height="4.4" fill="#fff" stroke="#747474" stroke-width="0.9"/>
<line x1="201.2" y1="257.7" x2="219" y2="257.7" stroke="#1a1a1a" stroke-width="1.35"/>
<circle cx="210.1" cy="254.9" r="1.08" fill="#1a1a1a"/>
<circle cx="210.1" cy="257.7" r="1.08" fill="#1a1a1a"/>
<circle cx="210.1" cy="260.8" r="1.08" fill="#1a1a1a"/>
<line x1="231.86" y1="270" x2="231.86" y2="270.8" stroke="#747474" stroke-width="0.8" stroke-dasharray="1.6 1.2"/>
<line x1="231.86" y1="273.6" x2="231.86" y2="275.2" stroke="#747474" stroke-width="0.8" stroke-dasharray="1.6 1.2"/>
<line x1="227.46" y1="270" x2="236.26" y2="270" stroke="#8a8a8a" stroke-width="0.8"/>
<line x1="227.46" y1="275.2" x2="236.26" y2="275.2" stroke="#8a8a8a" stroke-width="0.8"/>
<rect x="222.96" y="270.8" width="17.8" height="2.8" fill="#fff" stroke="#747474" stroke-width="0.9"/>
<rect x="222.96" y="270.8" width="17.8" height="1.6" fill="#b4b4b4"/>
<rect x="222.96" y="272.4" width="17.8" height="1.2" fill="#b4b4b4"/>
<line x1="222.96" y1="272.4" x2="240.76" y2="272.4" stroke="#1a1a1a" stroke-width="1.35"/>
<circle cx="231.86" cy="261.8" r="0.8" fill="#d8d8d8" stroke="#8f8f8f" stroke-width="0.6"/>
<circle cx="231.86" cy="270.5" r="1.08" fill="#1a1a1a"/>
<circle cx="231.86" cy="272.4" r="1.08" fill="#1a1a1a"/>
<circle cx="231.86" cy="274.8" r="1.08" fill="#1a1a1a"/>
<line x1="249.22" y1="275.3" x2="258.02" y2="275.3" stroke="#8a8a8a" stroke-width="0.8"/>
<line x1="249.22" y1="281.5" x2="258.02" y2="281.5" stroke="#8a8a8a" stroke-width="0.8"/>
<rect x="244.72" y="275.3" width="17.8" height="5.9" fill="#fff" stroke="#747474" stroke-width="0.9"/>
<line x1="244.72" y1="279.5" x2="262.52" y2="279.5" stroke="#1a1a1a" stroke-width="1.35"/>
<circle cx="253.62" cy="265.9" r="0.8" fill="#d8d8d8" stroke="#8f8f8f" stroke-width="0.6"/>
<circle cx="253.62" cy="275.3" r="1.08" fill="#1a1a1a"/>
<circle cx="253.62" cy="280" r="1.08" fill="#1a1a1a"/>
<circle cx="253.62" cy="281.3" r="1.08" fill="#1a1a1a"/>
<line x1="275.38" y1="273.2" x2="275.38" y2="275.6" stroke="#747474" stroke-width="0.8" stroke-dasharray="1.6 1.2"/>
<line x1="275.38" y1="280.2" x2="275.38" y2="284.7" stroke="#747474" stroke-width="0.8" stroke-dasharray="1.6 1.2"/>
<line x1="270.98" y1="273.2" x2="279.78" y2="273.2" stroke="#8a8a8a" stroke-width="0.8"/>
<line x1="270.98" y1="284.7" x2="279.78" y2="284.7" stroke="#8a8a8a" stroke-width="0.8"/>
<rect x="266.48" y="275.6" width="17.8" height="4.6" fill="#fff" stroke="#747474" stroke-width="0.9"/>
<line x1="266.48" y1="277.7" x2="284.28" y2="277.7" stroke="#1a1a1a" stroke-width="1.35"/>
<circle cx="275.38" cy="266.9" r="0.8" fill="#d8d8d8" stroke="#8f8f8f" stroke-width="0.6"/>
<circle cx="275.38" cy="273.2" r="1.08" fill="#1a1a1a"/>
<circle cx="275.38" cy="277.7" r="1.08" fill="#1a1a1a"/>
<circle cx="275.38" cy="280.2" r="1.08" fill="#1a1a1a"/>
<circle cx="275.38" cy="284.7" r="1.08" fill="#1a1a1a"/>
<line x1="297.14" y1="262" x2="297.14" y2="268.3" stroke="#747474" stroke-width="0.8" stroke-dasharray="1.6 1.2"/>
<line x1="297.14" y1="281.6" x2="297.14" y2="282.6" stroke="#747474" stroke-width="0.8" stroke-dasharray="1.6 1.2"/>
<line x1="292.74" y1="262" x2="301.54" y2="262" stroke="#8a8a8a" stroke-width="0.8"/>
<line x1="292.74" y1="282.6" x2="301.54" y2="282.6" stroke="#8a8a8a" stroke-width="0.8"/>
<rect x="288.24" y="268.3" width="17.8" height="13.3" fill="#fff" stroke="#747474" stroke-width="0.9"/>
<line x1="288.24" y1="275.3" x2="306.04" y2="275.3" stroke="#1a1a1a" stroke-width="1.35"/>
<circle cx="297.14" cy="273" r="0.8" fill="none" stroke="#a0a0a0" stroke-width="0.6"/>
<circle cx="297.14" cy="277.5" r="0.8" fill="none" stroke="#a0a0a0" stroke-width="0.6"/>
<circle cx="297.14" cy="262" r="1.08" fill="#1a1a1a"/>
<circle cx="297.14" cy="268.3" r="1.08" fill="#1a1a1a"/>
<circle cx="297.14" cy="282.3" r="1.08" fill="#1a1a1a"/>
<line x1="314.5" y1="237.6" x2="323.3" y2="237.6" stroke="#8a8a8a" stroke-width="0.8"/>
<line x1="314.5" y1="238.4" x2="323.3" y2="238.4" stroke="#8a8a8a" stroke-width="0.8"/>
<rect x="310" y="237.7" width="17.8" height="0.6" fill="#fff" stroke="#747474" stroke-width="0.9"/>
<line x1="310" y1="238" x2="327.8" y2="238" stroke="#2c2c2c" stroke-width="2.0"/>
<circle cx="318.9" cy="240" r="0.8" fill="none" stroke="#a0a0a0" stroke-width="0.6"/>
<circle cx="318.9" cy="238" r="1.08" fill="#1a1a1a"/>
<line x1="201.5" y1="245.4" x2="303.9" y2="245.4" stroke="#757575" stroke-width="0.85" stroke-linecap="square"/>
<line x1="252.6" y1="223.1" x2="252.6" y2="245.4" stroke="#757575" stroke-width="0.85" stroke-linecap="square"/>
<line x1="252.6" y1="223.1" x2="319.4" y2="223.1" stroke="#757575" stroke-width="0.85" stroke-linecap="square"/>
<line x1="319.4" y1="223.1" x2="319.4" y2="228.2" stroke="#757575" stroke-width="0.85" stroke-linecap="square"/>
<line x1="311" y1="228.2" x2="326.7" y2="228.2" stroke="#757575" stroke-width="0.85" stroke-linecap="square"/>
<text x="286" y="223.05" font-size="10.3" letter-spacing="0.4" stroke="#1c1c1c" stroke-width="0.12" text-anchor="middle">**</text>
</g>
<g>
<text transform="translate(434.8,199.4) scale(1.0,1)" font-size="10.2" stroke="#1c1c1c" stroke-width="0.4" text-anchor="middle">IRF4</text>
<rect x="366.9" y="207.4" width="140.8" height="124.7" fill="none" stroke="#888888" stroke-width="1"/>
<line x1="363.9" y1="222.4" x2="366.9" y2="222.4" stroke="#747474" stroke-width="0.9"/>
<text transform="translate(362.7,222.4) scale(1.06,1) rotate(-90)" font-size="6.2" stroke="#1c1c1c" stroke-width="0.22" text-anchor="middle">12</text>
<line x1="363.9" y1="243.4" x2="366.9" y2="243.4" stroke="#747474" stroke-width="0.9"/>
<text transform="translate(362.7,243.4) scale(1.06,1) rotate(-90)" font-size="6.2" stroke="#1c1c1c" stroke-width="0.22" text-anchor="middle">10</text>
<line x1="363.9" y1="264.4" x2="366.9" y2="264.4" stroke="#747474" stroke-width="0.9"/>
<text transform="translate(362.7,264.4) scale(1.06,1) rotate(-90)" font-size="6.2" stroke="#1c1c1c" stroke-width="0.22" text-anchor="middle">8</text>
<line x1="363.9" y1="285.4" x2="366.9" y2="285.4" stroke="#747474" stroke-width="0.9"/>
<text transform="translate(362.7,285.4) scale(1.06,1) rotate(-90)" font-size="6.2" stroke="#1c1c1c" stroke-width="0.22" text-anchor="middle">6</text>
<line x1="363.9" y1="306.4" x2="366.9" y2="306.4" stroke="#747474" stroke-width="0.9"/>
<text transform="translate(362.7,306.4) scale(1.06,1) rotate(-90)" font-size="6.2" stroke="#1c1c1c" stroke-width="0.22" text-anchor="middle">4</text>
<line x1="363.9" y1="327.4" x2="366.9" y2="327.4" stroke="#747474" stroke-width="0.9"/>
<text transform="translate(362.7,327.4) scale(1.06,1) rotate(-90)" font-size="6.2" stroke="#1c1c1c" stroke-width="0.22" text-anchor="middle">2</text>
<text transform="translate(353,267.6) scale(1.06,1) rotate(-90)" font-size="6.3" stroke="#1c1c1c" stroke-width="0.22" text-anchor="middle">Log2 expression</text>
<line x1="383" y1="332.1" x2="383" y2="335.1" stroke="#747474" stroke-width="0.9"/>
<text transform="translate(382,345.5) scale(1,1)" font-size="6.4" stroke="#1c1c1c" stroke-width="0.25" text-anchor="middle">PreBI</text>
<line x1="404.8" y1="332.1" x2="404.8" y2="335.1" stroke="#747474" stroke-width="0.9"/>
<text transform="translate(405.2,345.5) scale(1,1)" font-size="6.4" stroke="#1c1c1c" stroke-width="0.25" text-anchor="middle">PreBII</text>
<line x1="426.6" y1="332.1" x2="426.6" y2="335.1" stroke="#747474" stroke-width="0.9"/>
<text transform="translate(426.2,345.5) scale(1,1)" font-size="6.4" stroke="#1c1c1c" stroke-width="0.25" text-anchor="middle">I</text>
<line x1="448.4" y1="332.1" x2="448.4" y2="335.1" stroke="#747474" stroke-width="0.9"/>
<text transform="translate(449,345.5) scale(1,1)" font-size="6.4" stroke="#1c1c1c" stroke-width="0.25" text-anchor="middle">N</text>
<line x1="470.2" y1="332.1" x2="470.2" y2="335.1" stroke="#747474" stroke-width="0.9"/>
<text transform="translate(470.4,345.5) scale(1,1)" font-size="6.4" stroke="#1c1c1c" stroke-width="0.25" text-anchor="middle">M</text>
<line x1="492" y1="332.1" x2="492" y2="335.1" stroke="#747474" stroke-width="0.9"/>
<text transform="translate(492.4,345.5) scale(1,1)" font-size="6.4" stroke="#1c1c1c" stroke-width="0.25" text-anchor="middle">PC</text>
<line x1="383" y1="274.6" x2="383" y2="278.5" stroke="#747474" stroke-width="0.8" stroke-dasharray="1.6 1.2"/>
<line x1="378.6" y1="274.6" x2="387.4" y2="274.6" stroke="#8a8a8a" stroke-width="0.8"/>
<line x1="378.6" y1="283" x2="387.4" y2="283" stroke="#8a8a8a" stroke-width="0.8"/>
<rect x="374.1" y="278.5" width="17.8" height="4.1" fill="#fff" stroke="#747474" stroke-width="0.9"/>
<rect x="374.1" y="278.5" width="17.8" height="2.1" fill="#b4b4b4"/>
<rect x="374.1" y="280.6" width="17.8" height="2" fill="#b4b4b4"/>
<line x1="374.1" y1="280.6" x2="391.9" y2="280.6" stroke="#1a1a1a" stroke-width="1.35"/>
<circle cx="383" cy="290" r="0.8" fill="#d8d8d8" stroke="#8f8f8f" stroke-width="0.6"/>
<circle cx="383" cy="274.6" r="1.08" fill="#1a1a1a"/>
<circle cx="383" cy="279" r="1.08" fill="#1a1a1a"/>
<circle cx="383" cy="281" r="1.08" fill="#1a1a1a"/>
<circle cx="383" cy="282.8" r="1.08" fill="#1a1a1a"/>
<line x1="404.8" y1="247.9" x2="404.8" y2="248.6" stroke="#747474" stroke-width="0.8" stroke-dasharray="1.6 1.2"/>
<line x1="404.8" y1="258.9" x2="404.8" y2="266.8" stroke="#747474" stroke-width="0.8" stroke-dasharray="1.6 1.2"/>
<line x1="400.4" y1="247.9" x2="409.2" y2="247.9" stroke="#8a8a8a" stroke-width="0.8"/>
<line x1="400.4" y1="266.8" x2="409.2" y2="266.8" stroke="#8a8a8a" stroke-width="0.8"/>
<rect x="395.9" y="248.6" width="17.8" height="10.3" fill="#fff" stroke="#747474" stroke-width="0.9"/>
<line x1="395.9" y1="252.4" x2="413.7" y2="252.4" stroke="#1a1a1a" stroke-width="1.35"/>
<circle cx="404.8" cy="248" r="1.08" fill="#1a1a1a"/>
<circle cx="404.8" cy="252.4" r="1.08" fill="#1a1a1a"/>
<circle cx="404.8" cy="258.9" r="1.08" fill="#1a1a1a"/>
<circle cx="404.8" cy="266.8" r="1.08" fill="#1a1a1a"/>
<line x1="426.6" y1="264.4" x2="426.6" y2="265" stroke="#747474" stroke-width="0.8" stroke-dasharray="1.6 1.2"/>
<line x1="422.2" y1="264.4" x2="431" y2="264.4" stroke="#8a8a8a" stroke-width="0.8"/>
<line x1="422.2" y1="270.4" x2="431" y2="270.4" stroke="#8a8a8a" stroke-width="0.8"/>
<rect x="417.7" y="265" width="17.8" height="5.4" fill="#fff" stroke="#747474" stroke-width="0.9"/>
<line x1="417.7" y1="266" x2="435.5" y2="266" stroke="#1a1a1a" stroke-width="1.35"/>
<circle cx="426.6" cy="280.6" r="0.8" fill="#d8d8d8" stroke="#8f8f8f" stroke-width="0.6"/>
<circle cx="426.6" cy="264.8" r="1.08" fill="#1a1a1a"/>
<circle cx="426.6" cy="266" r="1.08" fill="#1a1a1a"/>
<circle cx="426.6" cy="270.4" r="1.08" fill="#1a1a1a"/>
<line x1="448.4" y1="265.1" x2="448.4" y2="266.5" stroke="#747474" stroke-width="0.8" stroke-dasharray="1.6 1.2"/>
<line x1="448.4" y1="269.5" x2="448.4" y2="274.2" stroke="#747474" stroke-width="0.8" stroke-dasharray="1.6 1.2"/>
<line x1="444" y1="265.1" x2="452.8" y2="265.1" stroke="#8a8a8a" stroke-width="0.8"/>
<line x1="444" y1="274.2" x2="452.8" y2="274.2" stroke="#8a8a8a" stroke-width="0.8"/>
<rect x="439.5" y="266.5" width="17.8" height="3" fill="#fff" stroke="#747474" stroke-width="0.9"/>
<line x1="439.5" y1="268" x2="457.3" y2="268" stroke="#1a1a1a" stroke-width="1.35"/>
<circle cx="448.4" cy="259.6" r="0.8" fill="#d8d8d8" stroke="#8f8f8f" stroke-width="0.6"/>
<circle cx="448.4" cy="265.3" r="1.08" fill="#1a1a1a"/>
<circle cx="448.4" cy="268" r="1.08" fill="#1a1a1a"/>
<circle cx="448.4" cy="270" r="1.08" fill="#1a1a1a"/>
<circle cx="448.4" cy="274.2" r="1.08" fill="#1a1a1a"/>
<line x1="470.2" y1="264.3" x2="470.2" y2="267.4" stroke="#747474" stroke-width="0.8" stroke-dasharray="1.6 1.2"/>
<line x1="470.2" y1="272.1" x2="470.2" y2="273.3" stroke="#747474" stroke-width="0.8" stroke-dasharray="1.6 1.2"/>
<line x1="465.8" y1="264.3" x2="474.6" y2="264.3" stroke="#8a8a8a" stroke-width="0.8"/>
<line x1="465.8" y1="273.3" x2="474.6" y2="273.3" stroke="#8a8a8a" stroke-width="0.8"/>
<rect x="461.3" y="267.4" width="17.8" height="4.7" fill="#fff" stroke="#747474" stroke-width="0.9"/>
<line x1="461.3" y1="268.1" x2="479.1" y2="268.1" stroke="#1a1a1a" stroke-width="1.35"/>
<circle cx="470.2" cy="264.3" r="1.08" fill="#1a1a1a"/>
<circle cx="470.2" cy="268" r="1.08" fill="#1a1a1a"/>
<circle cx="470.2" cy="272.5" r="1.08" fill="#1a1a1a"/>
<line x1="487.6" y1="245.3" x2="496.4" y2="245.3" stroke="#8a8a8a" stroke-width="0.8"/>
<line x1="487.6" y1="248.8" x2="496.4" y2="248.8" stroke="#8a8a8a" stroke-width="0.8"/>
<rect x="483.1" y="245.6" width="17.8" height="3" fill="#fff" stroke="#747474" stroke-width="0.9"/>
<line x1="483.1" y1="246.7" x2="500.9" y2="246.7" stroke="#1a1a1a" stroke-width="1.35"/>
<circle cx="492" cy="241.2" r="0.8" fill="#d8d8d8" stroke="#8f8f8f" stroke-width="0.6"/>
<circle cx="492" cy="251.5" r="0.8" fill="#d8d8d8" stroke="#8f8f8f" stroke-width="0.6"/>
<circle cx="492" cy="246" r="1.08" fill="#1a1a1a"/>
<circle cx="492" cy="247.5" r="1.08" fill="#1a1a1a"/>
<line x1="418.6" y1="250.5" x2="477.1" y2="250.5" stroke="#757575" stroke-width="0.85" stroke-linecap="square"/>
<line x1="448.6" y1="223" x2="448.6" y2="250.5" stroke="#757575" stroke-width="0.85" stroke-linecap="square"/>
<line x1="448.6" y1="223" x2="492.5" y2="223" stroke="#757575" stroke-width="0.85" stroke-linecap="square"/>
<line x1="492.5" y1="223" x2="492.5" y2="234.3" stroke="#757575" stroke-width="0.85" stroke-linecap="square"/>
<line x1="483.2" y1="234.3" x2="500.8" y2="234.3" stroke="#757575" stroke-width="0.85" stroke-linecap="square"/>
<text x="471.3" y="224.35" font-size="10.3" letter-spacing="0.4" stroke="#1c1c1c" stroke-width="0.12" text-anchor="middle">**</text>
</g>
<g>
<text transform="translate(607.2,199.4) scale(1.0,1)" font-size="10.2" stroke="#1c1c1c" stroke-width="0.4" text-anchor="middle">PAX5</text>
<rect x="537" y="207.4" width="141" height="124.7" fill="none" stroke="#888888" stroke-width="1"/>
<line x1="534" y1="222.4" x2="537" y2="222.4" stroke="#747474" stroke-width="0.9"/>
<text transform="translate(531.5,222.4) scale(1.06,1) rotate(-90)" font-size="6.2" stroke="#1c1c1c" stroke-width="0.22" text-anchor="middle">12</text>
<line x1="534" y1="243.4" x2="537" y2="243.4" stroke="#747474" stroke-width="0.9"/>
<text transform="translate(531.5,243.4) scale(1.06,1) rotate(-90)" font-size="6.2" stroke="#1c1c1c" stroke-width="0.22" text-anchor="middle">10</text>
<line x1="534" y1="264.4" x2="537" y2="264.4" stroke="#747474" stroke-width="0.9"/>
<text transform="translate(531.5,264.4) scale(1.06,1) rotate(-90)" font-size="6.2" stroke="#1c1c1c" stroke-width="0.22" text-anchor="middle">8</text>
<line x1="534" y1="285.4" x2="537" y2="285.4" stroke="#747474" stroke-width="0.9"/>
<text transform="translate(531.5,285.4) scale(1.06,1) rotate(-90)" font-size="6.2" stroke="#1c1c1c" stroke-width="0.22" text-anchor="middle">6</text>
<line x1="534" y1="306.4" x2="537" y2="306.4" stroke="#747474" stroke-width="0.9"/>
<text transform="translate(531.5,306.4) scale(1.06,1) rotate(-90)" font-size="6.2" stroke="#1c1c1c" stroke-width="0.22" text-anchor="middle">4</text>
<line x1="534" y1="327.4" x2="537" y2="327.4" stroke="#747474" stroke-width="0.9"/>
<text transform="translate(531.5,327.4) scale(1.06,1) rotate(-90)" font-size="6.2" stroke="#1c1c1c" stroke-width="0.22" text-anchor="middle">2</text>
<text transform="translate(523.1,272.1) scale(1.06,1) rotate(-90)" font-size="6.3" stroke="#1c1c1c" stroke-width="0.22" text-anchor="middle">Log2 expresion</text>
<line x1="553.1" y1="332.1" x2="553.1" y2="335.1" stroke="#747474" stroke-width="0.9"/>
<text transform="translate(551.6,345.8) scale(1,1)" font-size="6.4" stroke="#1c1c1c" stroke-width="0.25" text-anchor="middle">PreBI</text>
<line x1="574.92" y1="332.1" x2="574.92" y2="335.1" stroke="#747474" stroke-width="0.9"/>
<text transform="translate(575,345.8) scale(1,1)" font-size="6.4" stroke="#1c1c1c" stroke-width="0.25" text-anchor="middle">PreBII</text>
<line x1="596.74" y1="332.1" x2="596.74" y2="335.1" stroke="#747474" stroke-width="0.9"/>
<text transform="translate(595.9,345.8) scale(1,1)" font-size="6.4" stroke="#1c1c1c" stroke-width="0.25" text-anchor="middle">I</text>
<line x1="618.56" y1="332.1" x2="618.56" y2="335.1" stroke="#747474" stroke-width="0.9"/>
<text transform="translate(619,345.8) scale(1,1)" font-size="6.4" stroke="#1c1c1c" stroke-width="0.25" text-anchor="middle">N</text>
<line x1="640.38" y1="332.1" x2="640.38" y2="335.1" stroke="#747474" stroke-width="0.9"/>
<text transform="translate(640.6,345.8) scale(1,1)" font-size="6.4" stroke="#1c1c1c" stroke-width="0.25" text-anchor="middle">M</text>
<line x1="662.2" y1="332.1" x2="662.2" y2="335.1" stroke="#747474" stroke-width="0.9"/>
<text transform="translate(662.5,345.8) scale(1,1)" font-size="6.4" stroke="#1c1c1c" stroke-width="0.25" text-anchor="middle">PC</text>
<line x1="553.1" y1="253.1" x2="553.1" y2="254" stroke="#747474" stroke-width="0.8" stroke-dasharray="1.6 1.2"/>
<line x1="548.7" y1="253.1" x2="557.5" y2="253.1" stroke="#8a8a8a" stroke-width="0.8"/>
<line x1="548.7" y1="258.4" x2="557.5" y2="258.4" stroke="#8a8a8a" stroke-width="0.8"/>
<rect x="544.2" y="254" width="17.8" height="4.4" fill="#fff" stroke="#747474" stroke-width="0.9"/>
<line x1="544.2" y1="255" x2="562" y2="255" stroke="#1a1a1a" stroke-width="1.35"/>
<circle cx="553.1" cy="266.3" r="0.8" fill="#d8d8d8" stroke="#8f8f8f" stroke-width="0.6"/>
<circle cx="553.1" cy="253.3" r="1.08" fill="#1a1a1a"/>
<circle cx="553.1" cy="255" r="1.08" fill="#1a1a1a"/>
<circle cx="553.1" cy="258.2" r="1.08" fill="#1a1a1a"/>
<line x1="574.92" y1="243" x2="574.92" y2="243.7" stroke="#747474" stroke-width="0.8" stroke-dasharray="1.6 1.2"/>
<line x1="570.52" y1="243" x2="579.32" y2="243" stroke="#8a8a8a" stroke-width="0.8"/>
<line x1="570.52" y1="252.8" x2="579.32" y2="252.8" stroke="#8a8a8a" stroke-width="0.8"/>
<rect x="566.02" y="243.7" width="17.8" height="8.9" fill="#fff" stroke="#747474" stroke-width="0.9"/>
<line x1="566.02" y1="244.4" x2="583.82" y2="244.4" stroke="#1a1a1a" stroke-width="1.35"/>
<circle cx="574.92" cy="243.5" r="1.08" fill="#1a1a1a"/>
<circle cx="574.92" cy="244.3" r="1.08" fill="#1a1a1a"/>
<circle cx="574.92" cy="252.8" r="1.08" fill="#1a1a1a"/>
<line x1="592.34" y1="245.1" x2="601.14" y2="245.1" stroke="#8a8a8a" stroke-width="0.8"/>
<line x1="592.34" y1="245.9" x2="601.14" y2="245.9" stroke="#8a8a8a" stroke-width="0.8"/>
<rect x="587.84" y="245.2" width="17.8" height="0.6" fill="#fff" stroke="#747474" stroke-width="0.9"/>
<line x1="587.84" y1="245.5" x2="605.64" y2="245.5" stroke="#2c2c2c" stroke-width="2.0"/>
<circle cx="596.74" cy="238.7" r="0.8" fill="#d8d8d8" stroke="#8f8f8f" stroke-width="0.6"/>
<circle cx="596.74" cy="276.4" r="0.8" fill="#d8d8d8" stroke="#8f8f8f" stroke-width="0.6"/>
<circle cx="596.74" cy="245.5" r="1.08" fill="#1a1a1a"/>
<line x1="618.56" y1="242.9" x2="618.56" y2="244" stroke="#747474" stroke-width="0.8" stroke-dasharray="1.6 1.2"/>
<line x1="618.56" y1="247.8" x2="618.56" y2="251" stroke="#747474" stroke-width="0.8" stroke-dasharray="1.6 1.2"/>
<line x1="614.16" y1="242.9" x2="622.96" y2="242.9" stroke="#8a8a8a" stroke-width="0.8"/>
<line x1="614.16" y1="251" x2="622.96" y2="251" stroke="#8a8a8a" stroke-width="0.8"/>
<rect x="609.66" y="244" width="17.8" height="3.8" fill="#fff" stroke="#747474" stroke-width="0.9"/>
<line x1="609.66" y1="245" x2="627.46" y2="245" stroke="#1a1a1a" stroke-width="1.35"/>
<circle cx="618.56" cy="243.5" r="1.08" fill="#1a1a1a"/>
<circle cx="618.56" cy="247" r="1.08" fill="#1a1a1a"/>
<circle cx="618.56" cy="251" r="1.08" fill="#1a1a1a"/>
<line x1="640.38" y1="248.5" x2="640.38" y2="251.4" stroke="#747474" stroke-width="0.8" stroke-dasharray="1.6 1.2"/>
<line x1="635.98" y1="248.5" x2="644.78" y2="248.5" stroke="#8a8a8a" stroke-width="0.8"/>
<line x1="635.98" y1="255" x2="644.78" y2="255" stroke="#8a8a8a" stroke-width="0.8"/>
<rect x="631.48" y="251.4" width="17.8" height="3.1" fill="#fff" stroke="#747474" stroke-width="0.9"/>
<line x1="631.48" y1="253.5" x2="649.28" y2="253.5" stroke="#1a1a1a" stroke-width="1.35"/>
<circle cx="640.38" cy="248.5" r="1.08" fill="#1a1a1a"/>
<circle cx="640.38" cy="252" r="1.08" fill="#1a1a1a"/>
<circle cx="640.38" cy="254.5" r="1.08" fill="#1a1a1a"/>
<line x1="662.2" y1="291.7" x2="662.2" y2="292.7" stroke="#747474" stroke-width="0.8" stroke-dasharray="1.6 1.2"/>
<line x1="657.8" y1="287.8" x2="666.6" y2="287.8" stroke="#8a8a8a" stroke-width="0.8"/>
<line x1="657.8" y1="292.7" x2="666.6" y2="292.7" stroke="#8a8a8a" stroke-width="0.8"/>
<rect x="653.3" y="288.1" width="17.8" height="3.6" fill="#fff" stroke="#747474" stroke-width="0.9"/>
<rect x="653.3" y="288.1" width="17.8" height="1.7" fill="#b4b4b4"/>
<rect x="653.3" y="289.8" width="17.8" height="1.9" fill="#b4b4b4"/>
<line x1="653.3" y1="289.8" x2="671.1" y2="289.8" stroke="#1a1a1a" stroke-width="1.35"/>
<circle cx="662.2" cy="283.5" r="0.8" fill="#d8d8d8" stroke="#8f8f8f" stroke-width="0.6"/>
<circle cx="662.2" cy="288.3" r="1.08" fill="#1a1a1a"/>
<circle cx="662.2" cy="289.5" r="1.08" fill="#1a1a1a"/>
<circle cx="662.2" cy="290.8" r="1.08" fill="#1a1a1a"/>
<circle cx="662.2" cy="292" r="1.08" fill="#1a1a1a"/>
<line x1="544.3" y1="285.3" x2="650.2" y2="285.3" stroke="#757575" stroke-width="0.85" stroke-linecap="square"/>
<line x1="597.7" y1="285.3" x2="597.7" y2="312" stroke="#757575" stroke-width="0.85" stroke-linecap="square"/>
<line x1="597.7" y1="312" x2="662.6" y2="312" stroke="#757575" stroke-width="0.85" stroke-linecap="square"/>
<line x1="662.6" y1="303.6" x2="662.6" y2="312" stroke="#757575" stroke-width="0.85" stroke-linecap="square"/>
<line x1="653.1" y1="303.6" x2="671.8" y2="303.6" stroke="#757575" stroke-width="0.85" stroke-linecap="square"/>
<text x="630.9" y="321.85" font-size="10.3" letter-spacing="0.4" stroke="#1c1c1c" stroke-width="0.12" text-anchor="middle">**</text>
</g>
</svg>
</body></html>
